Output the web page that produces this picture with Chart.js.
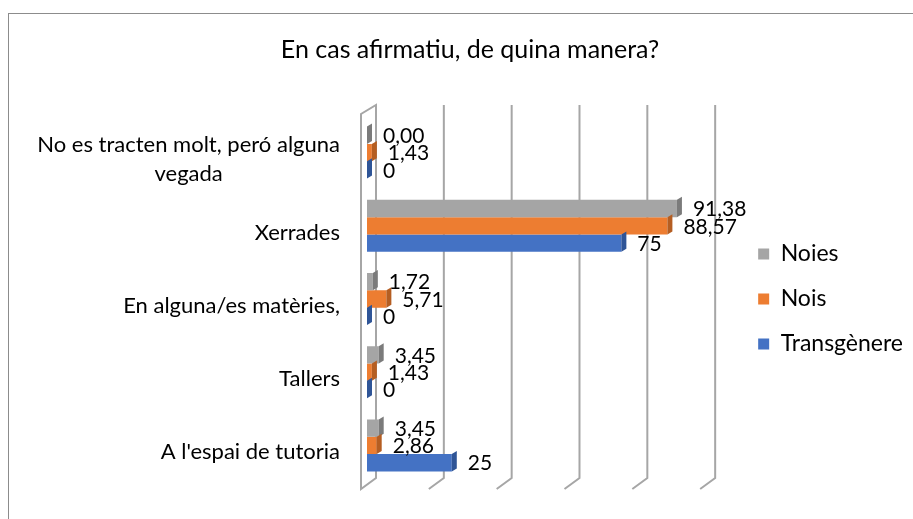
<!DOCTYPE html>
<html>
<head>
<meta charset="utf-8">
<script src="https://cdn.jsdelivr.net/npm/chart.js@4"></script>
<style>
  html, body { margin: 0; padding: 0; background: #fff; overflow: hidden; }
  #wrap { width: 913px; height: 519px; }
</style>
</head>
<body>
<div id="wrap"><canvas id="chart"></canvas></div>
<script>
// categories top to bottom
const categories = [
    ['No es tracten molt, peró alguna', 'vegada'],
    'Xerrades',
    'En alguna/es matèries,',
    'Tallers',
    "A l'espai de tutoria"
];
const noies = [0, 91.38, 1.72, 3.45, 3.45];
const nois = [1.43, 88.57, 5.71, 1.43, 2.86];
const transgenere = [0, 75, 0, 0, 25];
const gridTicks = [0, 20, 40, 60, 80, 100];

const FONT = 'Lato';
const colors = ['#a5a5a5', '#ed7d31', '#4472c4'];
const sideColors = ['#7b7b7b', '#b55e22', '#2f5597'];
const decimals = [2, 2, 0];

// chart border, 3D wall, gridlines, bar sides and texts
const backdrop = {
    id: 'backdrop',
    beforeDraw(chart) {
        const ctx = chart.ctx;
        ctx.save();
        ctx.strokeStyle = '#8c8c8c';
        ctx.lineWidth = 1;
        ctx.strokeRect(8.5, 13.5, 1000, 1000);
        ctx.restore();
    },
    beforeDatasetsDraw(chart) {
        const ctx = chart.ctx;
        const area = chart.chartArea;
        const x = chart.scales.x;
        const top = area.top - 11;
        const bend = area.bottom - 4;
        const bottom = area.bottom + 7;
        ctx.save();
        ctx.strokeStyle = '#a6a6a6';
        ctx.lineWidth = 2;
        gridTicks.forEach((v, i) => {
            const xf = x.getPixelForValue(v);
            ctx.beginPath();
            if (i === 0) {
                ctx.moveTo(xf - 6, bottom);
                ctx.lineTo(xf - 6, top + 9);
                ctx.lineTo(xf + 9, top);
                ctx.lineTo(xf + 9, bend);
                ctx.closePath();
            } else {
                ctx.moveTo(xf + 9, top);
                ctx.lineTo(xf + 9, bend);
                ctx.lineTo(xf - 6, bottom);
            }
            ctx.stroke();
        });
        ctx.restore();
    },
    afterDatasetsDraw(chart) {
        const ctx = chart.ctx;
        ctx.save();
        // 3D side faces
        chart.data.datasets.forEach((ds, di) => {
            chart.getDatasetMeta(di).data.forEach(bar => {
                const h = bar.height;
                const yTop = bar.y - h / 2;
                ctx.fillStyle = sideColors[di];
                ctx.beginPath();
                ctx.moveTo(bar.x, yTop);
                ctx.lineTo(bar.x + 5, yTop - 3);
                ctx.lineTo(bar.x + 5, yTop + h - 3);
                ctx.lineTo(bar.x, yTop + h);
                ctx.closePath();
                ctx.fill();
            });
        });
        // value labels
        ctx.font = '21px ' + FONT;
        ctx.fillStyle = '#000';
        ctx.textAlign = 'left';
        ctx.textBaseline = 'middle';
        chart.data.datasets.forEach((ds, di) => {
            chart.getDatasetMeta(di).data.forEach((bar, i) => {
                const txt = ds.data[i].toFixed(decimals[di]).replace('.', ',');
                ctx.fillText(txt, bar.x + 16, bar.y + 1);
            });
        });
        // category labels
        ctx.font = '22px ' + FONT;
        const y = chart.scales.y;
        const right = chart.chartArea.left - 27;
        categories.forEach((c, i) => {
            const lines = Array.isArray(c) ? c : [c];
            const yc = y.getPixelForValue(i) + 7;
            if (lines.length === 1) {
                ctx.textAlign = 'right';
                ctx.fillText(lines[0], right, yc);
            } else {
                const w = Math.max(...lines.map(l => ctx.measureText(l).width));
                ctx.textAlign = 'center';
                const lh = 29;
                lines.forEach((l, k) => {
                    ctx.fillText(l, right - w / 2, yc + (k - (lines.length - 1) / 2) * lh);
                });
            }
        });
        ctx.restore();
    }
};

new Chart(document.getElementById('chart'), {
    type: 'bar',
    data: {
        labels: categories,
        datasets: [
            { label: 'Noies', data: noies, backgroundColor: colors[0] },
            { label: 'Nois', data: nois, backgroundColor: colors[1] },
            { label: 'Transgènere', data: transgenere, backgroundColor: colors[2] }
        ]
    },
    options: {
        indexAxis: 'y',
        responsive: true,
        maintainAspectRatio: false,
        animation: false,
        layout: { padding: { left: 27, right: 0, top: 0, bottom: 37 } },
        datasets: {
            bar: { barPercentage: 1, categoryPercentage: 0.71, borderWidth: 0 }
        },
        scales: {
            x: { display: false, min: 0, max: 100 },
            y: {
                position: 'left',
                grid: { display: false },
                border: { display: false },
                ticks: { display: false },
                afterFit(s) { s.width = 340; }
            },
            // empty spacer between plot and legend
            yr: {
                type: 'linear',
                position: 'right',
                grid: { display: false },
                border: { display: false },
                ticks: { display: false },
                afterFit(s) { s.width = 30; }
            }
        },
        plugins: {
            title: {
                display: true,
                text: 'En cas afirmatiu, de quina manera?',
                color: '#000',
                font: { family: FONT, size: 25, weight: 'normal' },
                padding: { top: 35, bottom: 51 }
            },
            legend: {
                position: 'right',
                fullSize: false,
                maxWidth: 260,
                labels: {
                    boxWidth: 11,
                    boxHeight: 11,
                    padding: 22,
                    color: '#000',
                    font: { family: FONT, size: 23 }
                }
            },
            tooltip: { enabled: false }
        }
    },
    plugins: [backdrop]
});
</script>
</body>
</html>
